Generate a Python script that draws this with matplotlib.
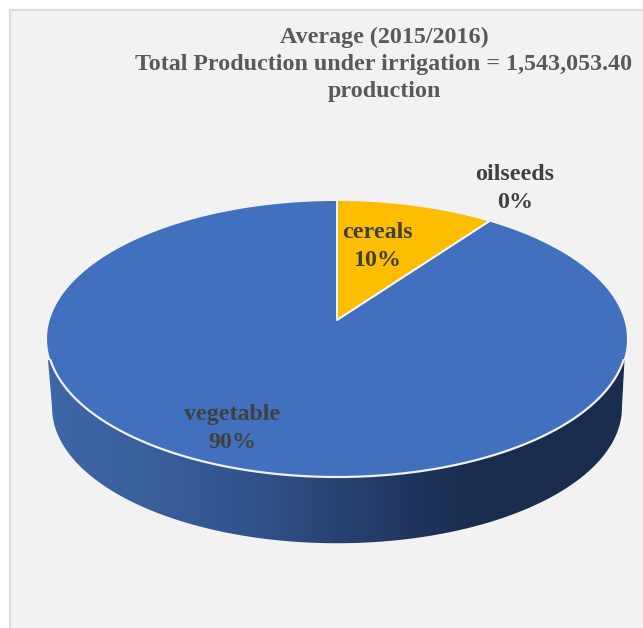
import numpy as np
import matplotlib
matplotlib.use("Agg")
import matplotlib.pyplot as plt
from matplotlib.colors import LinearSegmentedColormap
from matplotlib.patches import Polygon, Rectangle

categories = ["cereals", "oilseeds", "vegetable"]
shares = [10, 0, 90]
slice_colors = ["#fdbd00", "#a5a5a5", "#4170be"]
title_lines = ["Average (2015/2016)",
               "Total Production under irrigation = 1,543,053.40",
               "production"]

plt.rcParams["font.family"] = ["Liberation Serif", "DejaVu Serif"]
plt.rcParams["font.weight"] = "bold"

fig = plt.figure(figsize=(6.43, 6.28), dpi=100)
ax = fig.add_axes([0, 0, 1, 1])
ax.set_xlim(0, 643)
ax.set_ylim(628, 0)
ax.axis("off")

# panel background
ax.add_patch(Rectangle((9.5, 9.5), 700, 700, fc="#f2f2f2", ec="#dcdcdc", lw=1.6))

# tilted disc: a circle seen in perspective, so the apex sits above the ellipse centre
cx, cy = 337, 320
persp = 0.1377


def disc(theta, xs=287.2, ys=135.4):
    # theta clockwise from the top of the pie, radians
    u, v = np.sin(theta), np.cos(theta)
    d = 1 + persp * v
    return cx + xs * u / d, cy - ys * v / d


# side wall, horizontal gradient clipped to the outline
wall_cmap = LinearSegmentedColormap.from_list(
    "wall",
    [(0.0, "#3e67a8"), (0.18, "#395f9b"), (0.36, "#31528a"),
     (0.50, "#284372"), (0.62, "#20355e"), (0.74, "#1a2d4e"), (1.0, "#1a2c4d")])
# start the lower edge at its widest point so the sides run in smoothly
widest = np.arccos(-persp)
t = np.linspace(widest, 2 * np.pi - widest, 300)
bx, by = disc(t, 282.2, 133)
by = by + 69
wall_x = np.concatenate([[624.5], bx, [48]])
wall_y = np.concatenate([[360], by, [360]])
grad = np.linspace(0, 1, 600).reshape(1, -1)
im = ax.imshow(grad, cmap=wall_cmap, extent=[47, 627, 546, 355], aspect="auto", zorder=2)
ax.set_xlim(0, 643)
ax.set_ylim(628, 0)
im.set_clip_path(Polygon(np.column_stack([wall_x, wall_y]), transform=ax.transData))

# slices on top
start = 0.0
for name, val, col in zip(categories, shares, slice_colors):
    end = start + val / sum(shares) * 2 * np.pi
    if val > 0:
        a = np.linspace(start, end, 400)
        x, y = disc(a)
        ax.fill(np.r_[cx, x], np.r_[cy, y], fc=col, ec="none", zorder=3)
        ax.plot(np.r_[x[-1], cx, x[0]], np.r_[y[-1], cy, y[0]], color="#f4f4f4", lw=1.3, zorder=4)
    start = end

# white rim along the front edge, only where the wall shows under it
rim = np.linspace(np.pi / 2, 3 * np.pi / 2, 500)
rx, ry = disc(rim)
keep = ry >= 360
ax.plot(rx[keep], ry[keep], color="#f0f0f0", lw=1.6, zorder=4)

ax.text(384, 64.5, "\n".join(title_lines), ha="center", va="center", fontsize=17.3,
        color="#595959", linespacing=1.36, zorder=5)

label_pos = [(377, 246.5), (515, 188.5), (232, 428.5)]
for name, val, pos in zip(categories, shares, label_pos):
    ax.text(pos[0], pos[1], f"{name}\n{val}%", ha="center", va="center", fontsize=17.3,
            color="#404040", linespacing=1.4, zorder=5)

fig.savefig("out.png", dpi=100)
